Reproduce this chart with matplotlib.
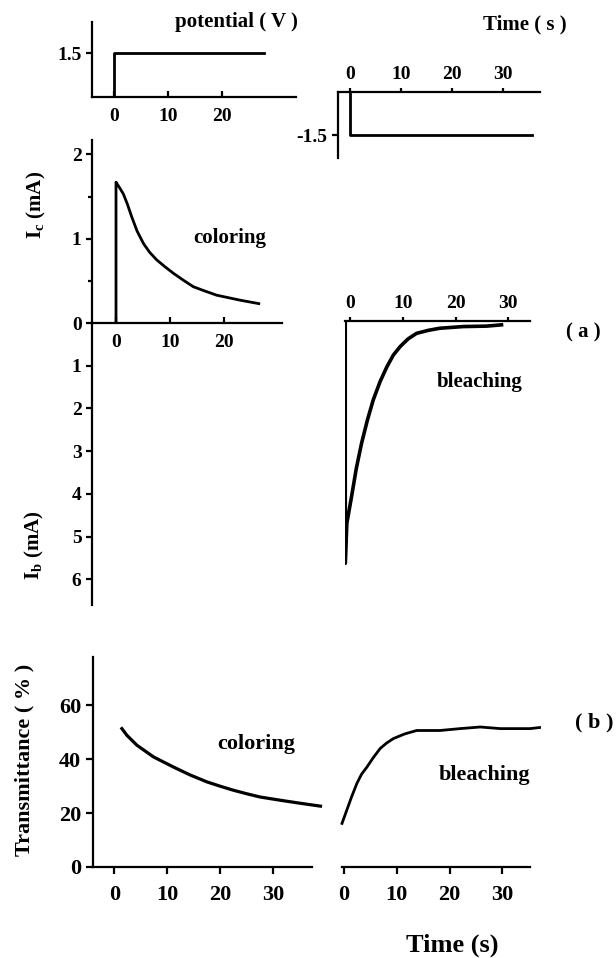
import numpy as np
import matplotlib.pyplot as plt

W, H = 616, 958

# applied potential steps (s, V)
pot_col_t = [0, 0, 27.8]
pot_col_v = [0, 1.5, 1.5]
pot_bl_t = [0, 0, 35.6]
pot_bl_v = [0, -1.5, -1.5]

# coloring current Ic (s, mA)
ic_t = [0, 0, 0.1, 0.7, 1.36, 2.1, 2.9, 3.9, 5.1, 6.2, 7.5, 9.0, 10.6, 12.4, 14.3, 16.4, 18.6, 20.8, 23.0, 26.4]
ic_ma = [0, 1.67, 1.66, 1.60, 1.53, 1.41, 1.26, 1.09, 0.94, 0.84, 0.75, 0.67, 0.59, 0.51, 0.43, 0.38, 0.33, 0.30, 0.27, 0.23]

# bleaching current Ib (s, mA)
ib_t = [-0.9, -0.9, -0.6, 0.3, 1.2, 2.2, 3.3, 4.4, 5.7, 7.0, 8.2, 9.5, 11.0, 12.6, 14.8, 17.0, 21.5, 25.9, 28.7]
ib_ma = [0, 5.68, 4.74, 4.11, 3.45, 2.86, 2.32, 1.85, 1.42, 1.07, 0.80, 0.60, 0.42, 0.29, 0.22, 0.17, 0.13, 0.12, 0.09]

# transmittance (s, %)
tc_t = [1.45, 2.4, 4.3, 7.4, 11.2, 14.3, 17.5, 20.0, 22.5, 25.0, 27.5, 31.3, 35.0, 38.9]
tc_v = [51.4, 48.9, 45.2, 40.9, 37.1, 34.2, 31.6, 30.0, 28.5, 27.2, 26.0, 24.8, 23.7, 22.6]
tb_t = [-0.3, 0.6, 1.5, 2.5, 3.4, 4.4, 5.6, 6.9, 8.1, 9.4, 11.5, 13.8, 18.2, 22.0, 25.8, 29.6, 35.2, 37.0]
tb_v = [16.2, 21.1, 26.0, 31.0, 34.5, 37.1, 40.6, 44.0, 46.0, 47.7, 49.4, 50.7, 50.7, 51.4, 52.0, 51.4, 51.4, 51.8]

plt.rcParams['font.family'] = 'Liberation Serif'
plt.rcParams['font.weight'] = 'bold'
plt.rcParams['mathtext.fontset'] = 'custom'
plt.rcParams['mathtext.rm'] = 'Liberation Serif'
plt.rcParams['mathtext.bf'] = 'Liberation Serif:bold'

fig = plt.figure(figsize=(W / 100, H / 100), dpi=100)

LW = 2.0
SW = 1.6


def add_ax(x0, y0, x1, y1):
    # pixel box -> figure fraction
    ax = fig.add_axes([x0 / W, 1 - y1 / H, (x1 - x0) / W, (y1 - y0) / H])
    ax.patch.set_alpha(0)
    for s in ax.spines.values():
        s.set_visible(False)
        s.set_linewidth(SW)
    ax.tick_params(width=SW, length=4, labelsize=14)
    return ax


def ftext(x, y, s, **kw):
    fig.text(x / W, 1 - y / H, s, **kw)


# potential, coloring
ax = add_ax(92, 22, 296, 97)
ax.spines['left'].set_visible(True)
ax.spines['bottom'].set_visible(True)
ax.plot(pot_col_t, pot_col_v, 'k', lw=LW)
ax.set_xlim(-4.07, 33.7)
ax.set_ylim(0, 2.56)
ax.set_xticks([0, 10, 20])
ax.set_yticks([1.5])
ax.set_yticklabels(['1.5'])
ax.tick_params(axis='x', direction='in', pad=8)

# potential, bleaching
ax = add_ax(338, 92, 540, 158)
ax.spines['left'].set_visible(True)
ax.spines['top'].set_visible(True)
ax.plot(pot_bl_t, pot_bl_v, 'k', lw=LW)
ax.set_xlim(-2.35, 37.25)
ax.set_ylim(-2.3, 0)
ax.set_xticks([0, 10, 20, 30])
ax.set_yticks([-1.5])
ax.set_yticklabels(['-1.5'])
ax.xaxis.tick_top()
ax.tick_params(axis='x', direction='out', length=3)

# Ic coloring
ax = add_ax(92, 140, 282, 323)
ax.spines['left'].set_visible(True)
ax.spines['bottom'].set_visible(True)
ax.plot(ic_t, ic_ma, 'k', lw=LW)
ax.set_xlim(-4.44, 30.7)
ax.set_ylim(0, 2.17)
ax.set_xticks([0, 10, 20])
ax.set_yticks([0, 1, 2])
ax.set_yticks([0.5, 1.5], minor=True)
ax.tick_params(axis='y', which='minor', width=SW, length=3)
ax.tick_params(axis='x', direction='in', pad=8)

# Ib axis (half scale)
ax = add_ax(92, 323, 282, 605)
ax.spines['left'].set_visible(True)
ax.set_ylim(6.6, 0)
ax.set_yticks([1, 2, 3, 4, 5, 6])
ax.set_xticks([])

# Ib bleaching
ax = add_ax(345, 321, 530, 600)
ax.spines['top'].set_visible(True)
ax.plot(ib_t, ib_ma, 'k', lw=LW + 0.6)
ax.set_xlim(-0.95, 34.1)
ax.set_ylim(6.54, 0)
ax.xaxis.tick_top()
ax.set_xticks([0, 10, 20, 30])
ax.set_yticks([])
ax.tick_params(axis='x', direction='out', length=3)

# transmittance coloring
ax = add_ax(93, 657, 312, 867)
ax.spines['left'].set_visible(True)
ax.spines['bottom'].set_visible(True)
ax.plot(tc_t, tc_v, 'k', lw=LW + 0.3, clip_on=False)
ax.set_xlim(-4.0, 37.3)
ax.set_ylim(0, 78)
ax.set_xticks([0, 10, 20, 30])
ax.set_yticks([0, 20, 40, 60])
ax.tick_params(labelsize=16, length=5)
ax.tick_params(axis='x', pad=8)

# transmittance bleaching
ax = add_ax(342, 657, 530, 867)
ax.spines['bottom'].set_visible(True)
ax.plot(tb_t, tb_v, 'k', lw=LW, clip_on=False)
ax.set_xlim(-0.3, 35.2)
ax.set_ylim(0, 78)
ax.set_xticks([0, 10, 20, 30])
ax.set_yticks([])
ax.tick_params(labelsize=16, length=5)
ax.tick_params(axis='x', pad=8)

# labels and annotations
ftext(175, 22, 'potential ( V )', fontsize=15, va='center')
ftext(483, 24, 'Time ( s )', fontsize=15, va='center')
ftext(36, 205, r'I$_\mathbf{c}$ (mA)', fontsize=15, rotation=90, ha='center', va='center')
ftext(34, 545, r'I$_\mathbf{b}$ (mA)', fontsize=15, rotation=90, ha='center', va='center')
ftext(230, 238, 'coloring', fontsize=15, ha='center', va='center')
ftext(480, 382, 'bleaching', fontsize=15, ha='center', va='center')
ftext(583, 332, '( a )', fontsize=15, ha='center', va='center')
ftext(24, 760, 'Transmittance ( % )', fontsize=16, rotation=90, ha='center', va='center')
ftext(256, 744, 'coloring', fontsize=16, ha='center', va='center')
ftext(484, 775, 'bleaching', fontsize=16, ha='center', va='center')
ftext(594, 722, '( b )', fontsize=16, ha='center', va='center')
ftext(452, 945, 'Time (s)', fontsize=19, ha='center', va='center')

fig.savefig('out.png', dpi=100)
